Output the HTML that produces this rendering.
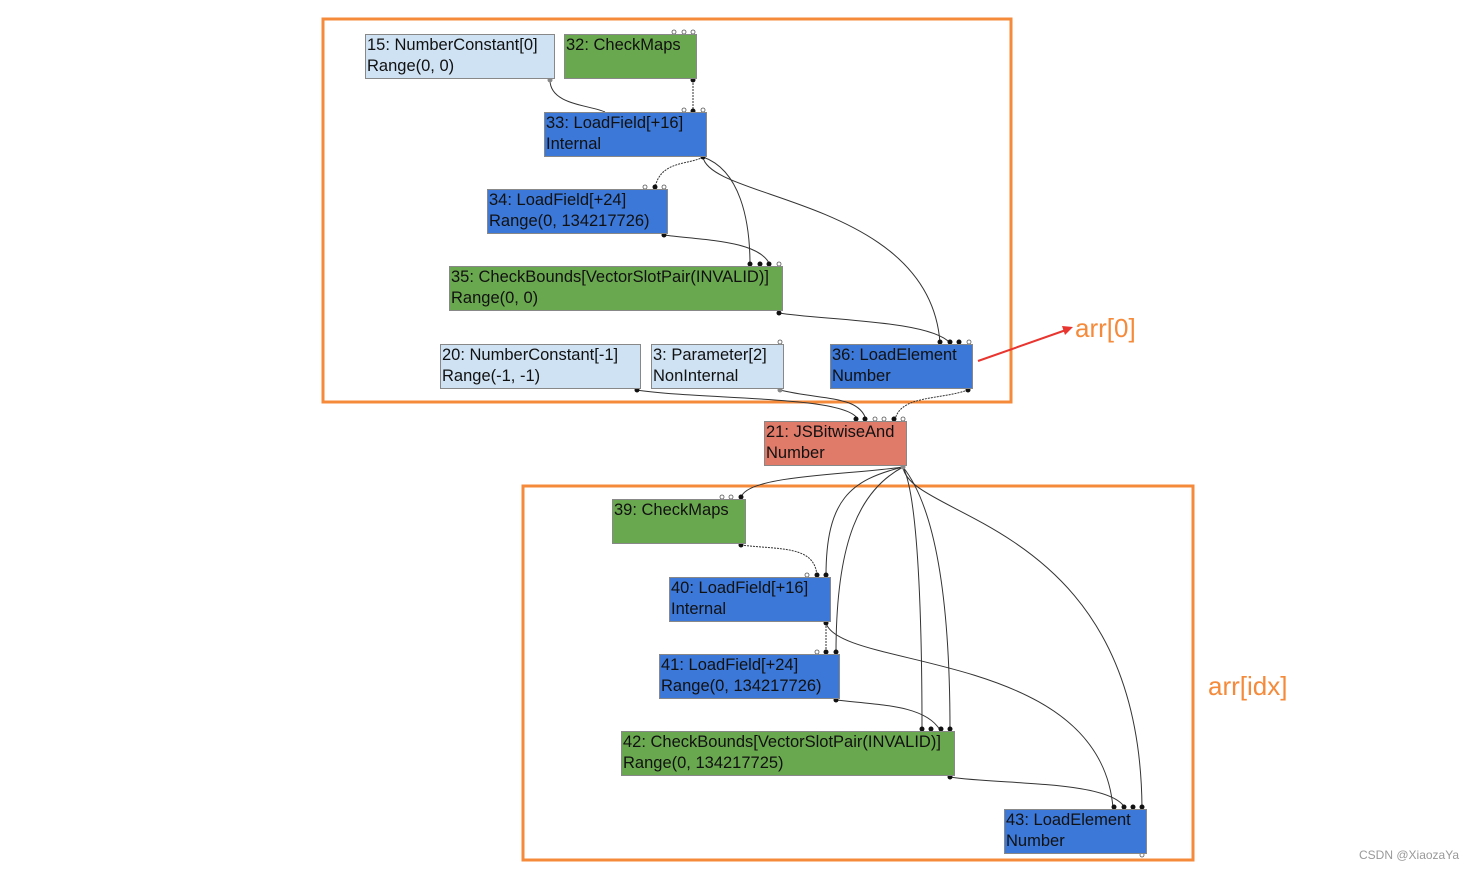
<!DOCTYPE html>
<html><head><meta charset="utf-8"><style>
body{margin:0;width:1481px;height:869px;background:#fff;position:relative;overflow:hidden;font-family:"Liberation Sans",sans-serif}
.n{position:absolute;box-sizing:border-box;border:1px solid #888;font-size:16.5px;line-height:21px;padding:0px 1px;color:#111;white-space:nowrap}
.lb{background:#cfe2f3}.g{background:#6aa84f}.b{background:#3c78d8}.r{background:#e07b6a}
svg{position:absolute;left:0;top:0}
</style></head><body>
<svg width="1481" height="869">
<g fill="none" stroke="#f58a3a" stroke-width="3">
<rect x="323" y="19" width="688" height="383"/>
<rect x="523" y="486" width="670" height="374"/>
</g>
<g fill="none" stroke="#333" stroke-width="1">
<path d="M550 80 C550 105 590 105 605 112"/>
<path d="M693 80 L693 112" stroke-dasharray="2 1"/>
<path d="M703 157 C690 165 660 160 655 188" stroke-dasharray="2 1"/>
<path d="M703 157 C740 170 750 220 750 265"/>
<path d="M703 157 C710 200 930 200 940 343"/>
<path d="M664 235 C700 240 760 240 770 265"/>
<path d="M779 313 C820 320 930 320 950 343"/>
<path d="M637 390 C700 400 850 395 858 420"/>
<path d="M780 390 C820 400 860 395 866 420"/>
<path d="M968 390 C940 400 900 395 895 420" stroke-dasharray="2 1"/>
<path d="M903 467 C850 475 745 475 741 498"/>
<path d="M903 467 C850 480 826 500 826 576"/>
<path d="M903 467 C860 490 836 540 836 653"/>
<path d="M903 467 C920 500 922 650 922 730"/>
<path d="M903 467 C945 520 950 650 950 730"/>
<path d="M903 467 C910 520 1140 520 1142 808"/>
<path d="M741 545 C780 550 815 545 817 576" stroke-dasharray="2 1"/>
<path d="M826 623 L826 653" stroke-dasharray="2 1"/>
<path d="M826 623 C840 670 1100 650 1113 808"/>
<path d="M836 700 C880 705 925 705 940 730"/>
<path d="M950 777 C1000 785 1110 780 1125 808"/>
</g>
<g fill="#111">
<circle cx="693" cy="80" r="2.5"/><circle cx="693" cy="111" r="2.5"/><circle cx="703" cy="157" r="2.5"/>
<circle cx="655" cy="187" r="2.5"/><circle cx="664" cy="235" r="2.5"/>
<circle cx="750" cy="264" r="2.5"/><circle cx="760" cy="264" r="2.5"/><circle cx="769" cy="264" r="2.5"/>
<circle cx="779" cy="313" r="2.5"/><circle cx="940" cy="342" r="2.5"/><circle cx="950" cy="342" r="2.5"/><circle cx="959" cy="342" r="2.5"/>
<circle cx="637" cy="390" r="2.5"/><circle cx="968" cy="390" r="2.5"/>
<circle cx="856" cy="419" r="2.5"/><circle cx="865" cy="419" r="2.5"/><circle cx="894" cy="419" r="2.5"/>
<circle cx="741" cy="497" r="2.5"/><circle cx="741" cy="545" r="2.5"/>
<circle cx="817" cy="575" r="2.5"/><circle cx="826" cy="575" r="2.5"/><circle cx="826" cy="623" r="2.5"/>
<circle cx="826" cy="652" r="2.5"/><circle cx="836" cy="652" r="2.5"/><circle cx="836" cy="700" r="2.5"/>
<circle cx="922" cy="729" r="2.5"/><circle cx="931" cy="729" r="2.5"/><circle cx="941" cy="729" r="2.5"/><circle cx="950" cy="729" r="2.5"/>
<circle cx="950" cy="777" r="2.5"/>
<circle cx="1114" cy="807" r="2.5"/><circle cx="1124" cy="807" r="2.5"/><circle cx="1133" cy="807" r="2.5"/><circle cx="1142" cy="807" r="2.5"/>
</g>
<g fill="#fff" stroke="#555" stroke-width="0.8">
<circle cx="674" cy="32" r="2"/><circle cx="684" cy="32" r="2"/><circle cx="693" cy="32" r="2"/>
<circle cx="684" cy="110" r="2"/><circle cx="703" cy="110" r="2"/>
<circle cx="645" cy="187" r="2"/><circle cx="664" cy="187" r="2"/><circle cx="779" cy="264" r="2"/>
<circle cx="969" cy="342" r="2"/><circle cx="780" cy="342" r="2"/>
<circle cx="875" cy="419" r="2"/><circle cx="884" cy="419" r="2"/><circle cx="903" cy="419" r="2"/>
<circle cx="722" cy="497" r="2"/><circle cx="731" cy="497" r="2"/><circle cx="807" cy="575" r="2"/><circle cx="817" cy="652" r="2"/>
<circle cx="1142" cy="855" r="2"/>
</g>
<g fill="#888"><circle cx="550" cy="80" r="2.5"/><circle cx="780" cy="390" r="2.5"/><circle cx="903" cy="467" r="2.5"/></g>
<line x1="978" y1="361" x2="1066" y2="330" stroke="#e8352f" stroke-width="2"/>
<polygon points="1073,327 1062,326 1065,335" fill="#e8352f"/>
<text x="1075" y="337" font-family="Liberation Sans" font-size="26" fill="#f58a3a">arr[0]</text>
<text x="1208" y="695" font-family="Liberation Sans" font-size="26" fill="#f58a3a">arr[idx]</text>
<text x="1359" y="859" font-family="Liberation Sans" font-size="12" fill="#999">CSDN @XiaozaYa</text>
</svg>
<div class="n lb" style="left:365px;top:34px;width:190px;height:45px">15: NumberConstant[0]<br>Range(0, 0)</div>
<div class="n g" style="left:564px;top:34px;width:133px;height:45px">32: CheckMaps</div>
<div class="n b" style="left:544px;top:112px;width:163px;height:45px">33: LoadField[+16]<br>Internal</div>
<div class="n b" style="left:487px;top:189px;width:181px;height:45px">34: LoadField[+24]<br>Range(0, 134217726)</div>
<div class="n g" style="left:449px;top:266px;width:334px;height:45px">35: CheckBounds[VectorSlotPair(INVALID)]<br>Range(0, 0)</div>
<div class="n lb" style="left:440px;top:344px;width:201px;height:45px">20: NumberConstant[-1]<br>Range(-1, -1)</div>
<div class="n lb" style="left:651px;top:344px;width:133px;height:45px">3: Parameter[2]<br>NonInternal</div>
<div class="n b" style="left:830px;top:344px;width:143px;height:45px">36: LoadElement<br>Number</div>
<div class="n r" style="left:764px;top:421px;width:143px;height:45px">21: JSBitwiseAnd<br>Number</div>
<div class="n g" style="left:612px;top:499px;width:134px;height:45px">39: CheckMaps</div>
<div class="n b" style="left:669px;top:577px;width:162px;height:45px">40: LoadField[+16]<br>Internal</div>
<div class="n b" style="left:659px;top:654px;width:181px;height:45px">41: LoadField[+24]<br>Range(0, 134217726)</div>
<div class="n g" style="left:621px;top:731px;width:334px;height:45px">42: CheckBounds[VectorSlotPair(INVALID)]<br>Range(0, 134217725)</div>
<div class="n b" style="left:1004px;top:809px;width:143px;height:45px">43: LoadElement<br>Number</div>
</body></html>
